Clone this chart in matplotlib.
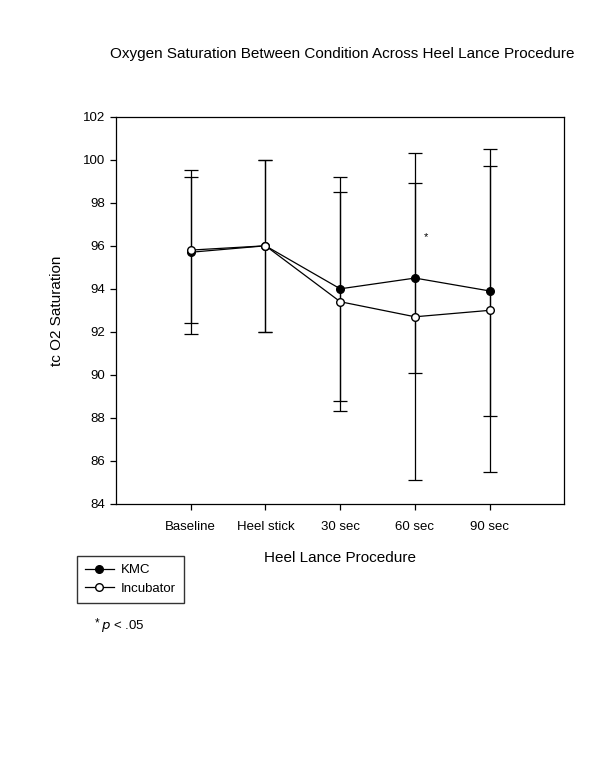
import numpy as np
from matplotlib import pyplot as plt
from matplotlib.lines import Line2D

plt.rcParams['font.family'] = ['Liberation Sans', 'DejaVu Sans']

stages = ['Baseline', 'Heel stick', '30 sec', '60 sec', '90 sec']
kmc_mean = [95.7, 96.0, 94.0, 94.5, 93.9]
kmc_sd = [3.8, 4.0, 5.2, 4.4, 5.8]
inc_mean = [95.8, 96.0, 93.4, 92.7, 93.0]
inc_sd = [3.4, 4.0, 5.1, 7.6, 7.5]

x = np.arange(1, len(stages) + 1)

fig = plt.figure(figsize=(6, 7.77), dpi=100)
ax = fig.add_axes([0.1933, 0.3514, 0.7475, 0.4984])

ax.errorbar(x, kmc_mean, yerr=kmc_sd, color='black', lw=0.9, elinewidth=0.9,
            capsize=5, capthick=0.9, marker='o', ms=5.5, mfc='black', mec='black',
            zorder=2)
ax.errorbar(x, inc_mean, yerr=inc_sd, color='black', lw=0.9, elinewidth=0.9,
            capsize=5, capthick=0.9, marker='o', ms=5.5, mfc='white', mec='black',
            zorder=3)

# significance mark at 60 sec
ax.text(4.15, 96.4, '*', ha='center', va='center', fontsize=8)

ax.set_xlim(0, 6)
ax.set_ylim(84, 102)
ax.set_yticks(np.arange(84, 103, 2))
ax.set_xticks(x)
ax.set_xticklabels(stages)
ax.tick_params(axis='both', direction='out', length=4, width=0.9, labelsize=9.5)
ax.tick_params(axis='x', pad=8)
for s in ax.spines.values():
    s.set_linewidth(0.9)

ax.set_xlabel('Heel Lance Procedure', fontsize=11, labelpad=13)
ax.set_ylabel('tc O2 Saturation', fontsize=11, labelpad=14)
fig.text(0.571, 0.931, 'Oxygen Saturation Between Condition Across Heel Lance Procedure',
         ha='center', va='center', fontsize=11)

handles = [Line2D([], [], color='black', lw=0.9, marker='o', ms=5.5, mfc='black', mec='black'),
           Line2D([], [], color='black', lw=0.9, marker='o', ms=5.5, mfc='white', mec='black')]
ax.legend(handles, ['KMC', 'Incubator'], loc='upper left', bbox_to_anchor=(0.128, 0.284),
          bbox_transform=fig.transFigure, borderaxespad=0, frameon=True, fancybox=False,
          edgecolor='black', fontsize=9.5, handlelength=2.2, handletextpad=0.55,
          borderpad=0.6, labelspacing=0.45)

fig.text(0.158, 0.198, '*', ha='left', va='center', fontsize=8.5)
fig.text(0.169, 0.194, r'$\it{p}$ < .05', ha='left', va='center', fontsize=9.5)

fig.savefig('out.png', dpi=100)
